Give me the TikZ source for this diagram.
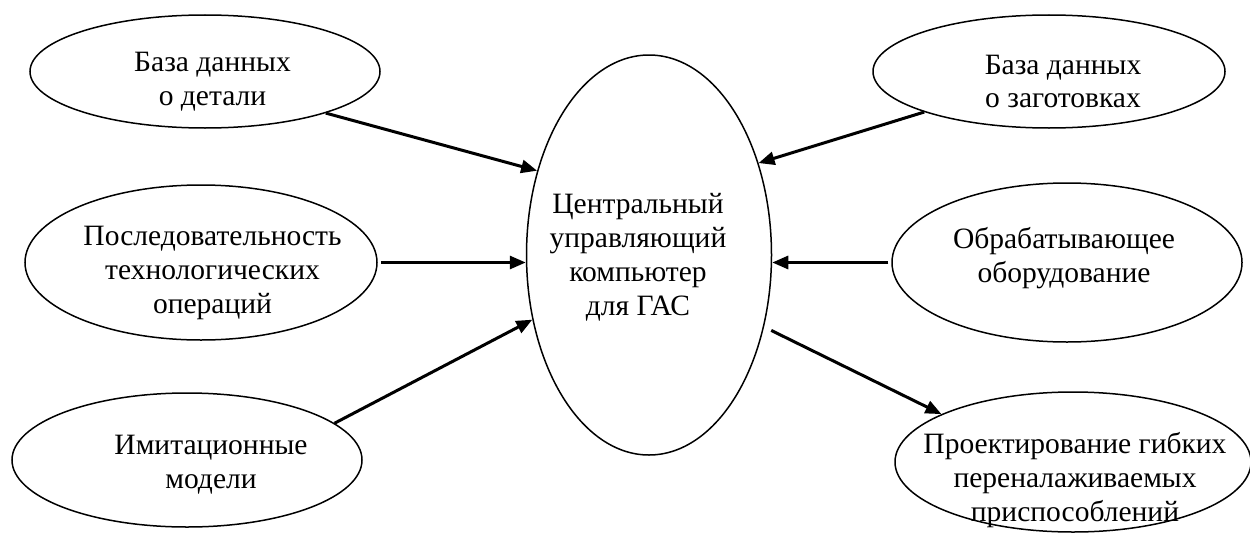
\documentclass[tikz,border=0pt]{standalone}
\usepackage{fontspec}
\setmainfont{Liberation Serif}
\usepackage{tikz}
\usetikzlibrary{arrows.meta,shapes.geometric}

\begin{document}
\begin{tikzpicture}[
	oval/.style={ellipse, draw, line width=0.3mm, inner sep=0pt},
	txt/.style={align=center, font=\fontsize{16.8}{19.3}\selectfont},
	arr/.style={line width=0.6mm, -{Triangle[length=0.32cm,width=0.26cm]}}]
			%%%%% START %%%%%
			
			\useasboundingbox (0, 0) rectangle (25, 10.64);
			
			\node[oval, minimum width=4.9cm, minimum height=8cm] (central) at (12.98, 5.54) {};
			\node[txt] (centraltxt) at (12.76, 5.5) {Центральный\\управляющий\\компьютер\\для ГАС};
			
			\node[oval, minimum width=7cm, minimum height=2.26cm] (detal) at (4.1, 9.21) {};
			\node[txt] (detaltxt) at (4.25, 9.01) {База данных\\о детали};
			
			\node[oval, minimum width=7.04cm, minimum height=3.1cm] (posl) at (4.02, 5.39) {};
			\node[txt] (posltxt) at (4.25, 5.18) {Последовательность\\технологических\\операций};
			
			\node[oval, minimum width=7cm, minimum height=2.68cm] (imit) at (3.74, 1.44) {};
			\node[txt] (imittxt) at (4.22, 1.34) {Имитационные\\модели};
			
			\node[oval, minimum width=7.04cm, minimum height=2.26cm] (zag) at (20.98, 9.21) {};
			\node[txt] (zagtxt) at (21.26, 9.01) {База данных\\о заготовках};
			
			\node[oval, minimum width=7cm, minimum height=3.18cm] (obr) at (21.34, 5.39) {};
			\node[txt] (obrtxt) at (21.28, 5.47) {Обрабатывающее\\оборудование};
			
			\node[oval, minimum width=7.12cm, minimum height=2.8cm] (proekt) at (21.46, 1.4) {};
			\node[txt] (proekttxt) at (21.5, 1.04) {Проектирование гибких\\переналаживаемых\\приспособлений};
			
			\draw[arr] (detal.-19) -- (central.143);
			\draw[arr, shorten <=0.06cm] (posl.east) -- (posl.east -| central.west);
			\draw[arr] (imit.14) -- (central.209);
			
			\draw[arr] (zag.198) -- (central.40);
			\draw[arr, shorten <=0.06cm] (obr.west) -- (obr.west -| central.east);
			\draw[arr, shorten <=0.16cm] (central.-32) -- (proekt.160);
			
			%%%%% END %%%%%
		\end{tikzpicture}
\end{document}
